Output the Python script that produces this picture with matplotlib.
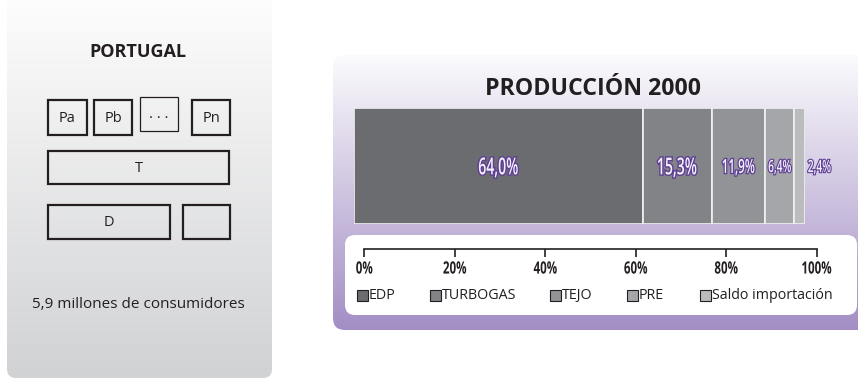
import numpy as np
import matplotlib.pyplot as plt
import matplotlib.patheffects as pe
from matplotlib.colors import to_rgb
from matplotlib.font_manager import FontProperties
from matplotlib.patches import FancyBboxPatch, Rectangle, PathPatch
from matplotlib.textpath import TextPath
from matplotlib.transforms import Affine2D

# production shares, year 2000
sources = ["EDP", "TURBOGAS", "TEJO", "PRE", "Saldo importación"]
shares = [64.0, 15.3, 11.9, 6.4, 2.4]
share_labels = ["64,0%", "15,3%", "11,9%", "6,4%", "2,4%"]
colors = ["#6b6c70", "#828387", "#929396", "#a5a6a9", "#bbbcbe"]
ticks = [0, 20, 40, 60, 80, 100]
tick_labels = ["0%", "20%", "40%", "60%", "80%", "100%"]

# market structure boxes: (label, x0, y0, x1, y1, linewidth)
boxes = [
    ("Pa", 48, 100, 87, 135, 1.6),
    ("Pb", 94, 100, 132, 135, 1.6),
    (". . .", 140, 97, 178, 131, 0.9),
    ("Pn", 192, 100, 230, 135, 1.6),
    ("T", 48, 151, 229, 184, 1.6),
    ("D", 48, 205, 170, 239, 1.6),
    ("", 183, 205, 230, 239, 1.6),
]

W, H = 858, 379
INK = "#231f20"
plt.rcParams["font.family"] = ["Open Sans", "DejaVu Sans"]

fig = plt.figure(figsize=(W / 100, H / 100), dpi=100)


def pixel_canvas():
    # full-figure axes in pixel units, y pointing down
    ax = fig.add_axes([0, 0, 1, 1])
    ax.set_xlim(0, W)
    ax.set_ylim(H, 0)
    ax.axis("off")
    return ax


bg = pixel_canvas()


def gradient_panel(ax, x0, y0, x1, y1, top, bottom, radius, z):
    patch = FancyBboxPatch((x0 + radius, y0 + radius), x1 - x0 - 2 * radius,
                           y1 - y0 - 2 * radius,
                           boxstyle="round,pad=%d" % radius,
                           fc="none", ec="none", zorder=z)
    ax.add_patch(patch)
    t = np.linspace(0, 1, 256)[:, None]
    img = (np.array(to_rgb(top)) * (1 - t) + np.array(to_rgb(bottom)) * t)
    img = img[:, None, :].repeat(2, axis=1)
    im = ax.imshow(img, extent=(x0, x1, y1, y0), aspect="auto", zorder=z,
                   interpolation="bilinear")
    im.set_clip_path(patch)


def narrow_text(ax, x, y, s, size, squeeze, weight, fc, ec=None, lw=0, z=5):
    """Horizontally condensed text drawn as a path on a pixel canvas."""
    tp = TextPath((0, 0), s, size=size,
                  prop=FontProperties(family="Open Sans", weight=weight))
    bb = tp.get_extents()
    cap = 0.714 * size
    tr = (Affine2D().translate(-(bb.x0 + bb.x1) / 2, -cap / 2)
          .scale(squeeze, -1).translate(x, y) + ax.transData)
    patch = PathPatch(tp, fc=fc, ec="none", transform=tr, zorder=z)
    if ec:
        # outline only around the outside of the glyphs
        patch.set_path_effects([pe.Stroke(linewidth=lw, foreground=ec),
                                pe.Normal()])
    ax.add_patch(patch)


def to_canvas(ax, x, y):
    return bg.transData.inverted().transform(ax.transData.transform((x, y)))


# left panel
gradient_panel(bg, 7, -20, 272, 378, "#ffffff", "#d1d2d4", 9, 1)
bg.text(138, 52, "PORTUGAL", ha="center", va="center", fontsize=13,
        fontweight="bold", color=INK, zorder=3)
for label, x0, y0, x1, y1, lw in boxes:
    bg.add_patch(Rectangle((x0, y0), x1 - x0, y1 - y0, fill=False,
                           ec=INK, lw=lw, zorder=3))
    if label:
        bg.text((x0 + x1) / 2, (y0 + y1) / 2 + 1, label, ha="center",
                va="center", fontsize=10.5, color=INK, zorder=3)
bg.text(138, 304, "5,9 millones de consumidores", ha="center", va="center",
        fontsize=11, color=INK, zorder=3)

# right panel
gradient_panel(bg, 333, 55, 880, 330, "#fbfbfd", "#a38ec4", 12, 1)
bg.add_patch(FancyBboxPatch((355, 245), 492, 60,
                            boxstyle="round,pad=10", fc="white", ec="none",
                            zorder=2))
bg.text(593, 89, "PRODUCCIÓN 2000", ha="center", va="center", fontsize=16.7,
        fontweight="bold", color=INK, zorder=3)

# stacked bar
bar_ax = fig.add_axes([354 / W, 1 - 224 / H, 451 / W, 116 / H])
bar_ax.set_xlim(0, 100)
bar_ax.set_ylim(0, 1)
bar_ax.axis("off")
left = 0
centers = []
for share, color in zip(shares, colors):
    bar_ax.barh(0.5, share, left=left, height=1, color=color,
                edgecolor="#f2f2f2", linewidth=1.2)
    # the thin import slice gets its label just to the right
    centers.append(left + share / 2 if share >= 3 else left + share + 3.2)
    left += share

# percentage scale
scale_ax = fig.add_axes([364.3 / W, 1 - 249 / H, 452.4 / W, 0.001])
scale_ax.set_xlim(0, 100)
scale_ax.set_yticks([])
for side in ["left", "right", "bottom"]:
    scale_ax.spines[side].set_visible(False)
scale_ax.spines["top"].set_linewidth(1.2)
scale_ax.spines["top"].set_color(INK)
scale_ax.xaxis.set_ticks_position("top")
scale_ax.set_xticks(ticks)
scale_ax.set_xticklabels([])
scale_ax.tick_params(axis="x", direction="in", length=5.5, width=1.2,
                     color=INK)

# overlay for the labels that sit on top of the bar and scale
fg = pixel_canvas()
label_sizes = [23.5, 23.5, 19.5, 17, 17]
outline_w = [2.0, 2.0, 1.8, 1.6, 1.6]
for cx, label, size, lw in zip(centers, share_labels, label_sizes, outline_w):
    px, py = to_canvas(bar_ax, cx, 0.5)
    narrow_text(fg, px, py, label, size, 0.6, 600, "#f3effa",
                ec="#5e3f94", lw=lw)

for tk, tl in zip(ticks, tick_labels):
    px, _ = to_canvas(scale_ax, tk, 0)
    narrow_text(fg, px, 267.5, tl, 17, 0.68, "bold", INK)

# legend row
legend_x = [357, 430, 550, 627, 700]
for x, name, color in zip(legend_x, sources, colors):
    fg.add_patch(Rectangle((x, 290), 11, 11, fc=color, ec=INK, lw=0.8,
                           zorder=3))
    fg.text(x + 12, 295.5, name, ha="left", va="center", fontsize=10.3,
            color=INK, zorder=3)

fig.savefig("out.png", dpi=100)
